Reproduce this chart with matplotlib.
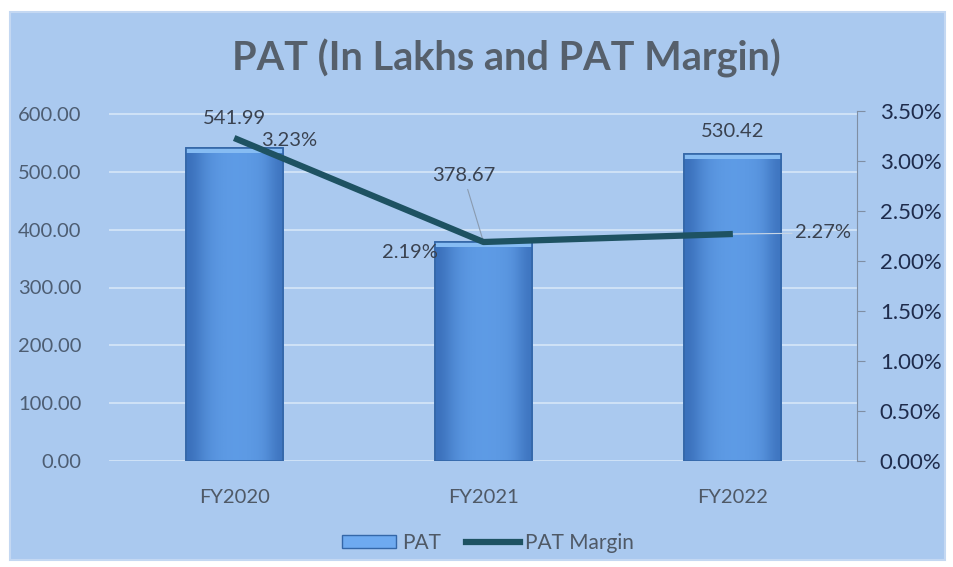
import numpy as np
import matplotlib
matplotlib.use('Agg')
import matplotlib.pyplot as plt
from matplotlib.patches import Rectangle, Patch
from matplotlib.lines import Line2D
from matplotlib.ticker import FuncFormatter, MultipleLocator

plt.rcParams['font.family'] = ['Lato', 'DejaVu Sans']

#chart data
years = ['FY2020', 'FY2021', 'FY2022']
pat = [541.99, 378.67, 530.42]
margin = [3.23, 2.19, 2.27]  # in percent

bg = '#aac9ef'
line_col = '#1e5262'

fig = plt.figure(figsize=(9.54, 5.67), dpi=100)
fig.patch.set_facecolor('white')

#light blue chart frame (behind the axes)
fig.patches.append(Rectangle((10/954, 7/567), 935/954, 548/567, transform=fig.transFigure,
                             facecolor=bg, edgecolor='#c4d8f2', linewidth=1.5, zorder=-5))

ax = fig.add_axes([109.5/954, 106/567, 748/954, 350/567])
ax.set_facecolor('none')
x = np.arange(len(years))

#bars with a smooth horizontal shading
bars = ax.bar(x, pat, width=0.39, color='#5b9be4', edgecolor='#3467a8', linewidth=1.2, zorder=3)
grad = np.array([[0.0, 0.55, 0.8, 0.9, 0.9, 0.85, 0.7, 0.1]])
cmap = matplotlib.colors.LinearSegmentedColormap.from_list('b', ['#3a70bb', '#62a0ea'])
for b in bars:
    x0, w, h = b.get_x(), b.get_width(), b.get_height()
    im = ax.imshow(grad, extent=[x0, x0 + w, 0, h], aspect='auto', cmap=cmap,
                   interpolation='bicubic', vmin=0, vmax=1, zorder=3.1)
    im.set_clip_path(b)
    #light top rim
    ax.add_patch(Rectangle((x0, h - 9), w, 9, facecolor='#86bcf3', edgecolor='none', zorder=3.2))
    ax.add_patch(Rectangle((x0, 0), w, h, facecolor='none', edgecolor='#3467a8', linewidth=1.2, zorder=3.3))

ax.set_xlim(-0.5, 2.5)
ax.yaxis.set_major_formatter(FuncFormatter(lambda v, p: '{:.2f}'.format(v)))
ax.grid(axis='y', color='#d6e6f8', linewidth=1.2, zorder=0)
ax.set_axisbelow(True)
for s in ax.spines.values():
    s.set_visible(False)
ax.tick_params(axis='y', length=0, pad=20, labelsize=14.5, labelcolor='#4d5d72')
ax.tick_params(axis='x', length=0, pad=20, labelsize=14.5, labelcolor='#4f5966')
ax.set_xticks(x)
ax.set_xticklabels(years)

#secondary axis for margin
ax2 = ax.twinx()
ax2.set_ylim(0, 3.5)
ax2.yaxis.set_major_locator(MultipleLocator(0.5))
ax2.yaxis.set_major_formatter(FuncFormatter(lambda v, p: '{:.2f}%'.format(v)))
for s in ['top', 'left', 'bottom']:
    ax2.spines[s].set_visible(False)
ax2.spines['right'].set_color('#7f8ea3')
ax2.tick_params(axis='y', length=6, color='#7f8ea3', pad=10, labelsize=16, labelcolor='#1f2c4c')
ax2.plot(x, margin, color=line_col, linewidth=4.5, solid_capstyle='butt', zorder=5)

#left axis height: top gridline at 600 lines up just under 3.50%
ax.set_ylim(0, 600 * 3.5 / 3.47)
ax.set_yticks(np.arange(0, 601, 100))

#data labels for PAT
lab_col = '#3a4250'
fs = 14.5
ax.annotate('{:.2f}'.format(pat[0]), (x[0], pat[0]), xytext=(0, 21), textcoords='offset pixels',
            ha='center', va='bottom', fontsize=fs, color=lab_col)
ax.annotate('{:.2f}'.format(pat[2]), (x[2], pat[2]), xytext=(0, 14), textcoords='offset pixels',
            ha='center', va='bottom', fontsize=fs, color=lab_col)
ax.annotate('{:.2f}'.format(pat[1]), (x[1], pat[1]), xytext=(-20, 58), textcoords='offset pixels',
            ha='center', va='bottom', fontsize=fs, color=lab_col,
            arrowprops=dict(arrowstyle='-', color='#8a9bb0', lw=0.8, shrinkA=2, shrinkB=0))

#data labels for margin
ax2.annotate('{:.2f}%'.format(margin[0]), (x[0], margin[0]), xytext=(55, -2), textcoords='offset pixels',
             ha='center', va='center', fontsize=fs, color=lab_col)
ax2.annotate('{:.2f}%'.format(margin[1]), (x[1], margin[1]), xytext=(-74, -11), textcoords='offset pixels',
             ha='center', va='center', fontsize=fs, color=lab_col)
ax2.annotate('{:.2f}%'.format(margin[2]), (x[2], margin[2]), xytext=(62, 1), textcoords='offset pixels',
             ha='left', va='center', fontsize=fs, color=lab_col,
             arrowprops=dict(arrowstyle='-', color='#c8d6e6', lw=0.8, shrinkA=0, shrinkB=0))

#title
fig.text(506/954, 1 - 58/567, 'PAT (In Lakhs and PAT Margin)', ha='center', va='center',
         fontsize=28.5, fontweight='bold', color='#56606c')

#legend
handles = [Patch(facecolor='#6eaaf0', edgecolor='#3467a8'),
           Line2D([0], [0], color=line_col, linewidth=4.5)]
fig.legend(handles, ['PAT', 'PAT Margin'], loc='center', bbox_to_anchor=(488/954, 1 - 543/567),
           ncol=2, frameon=False, fontsize=15, labelcolor='#4f5966', handlelength=2.6,
           handleheight=0.6, handletextpad=0.25, columnspacing=1.2)

fig.savefig('out.png', dpi=100, facecolor=fig.get_facecolor())
